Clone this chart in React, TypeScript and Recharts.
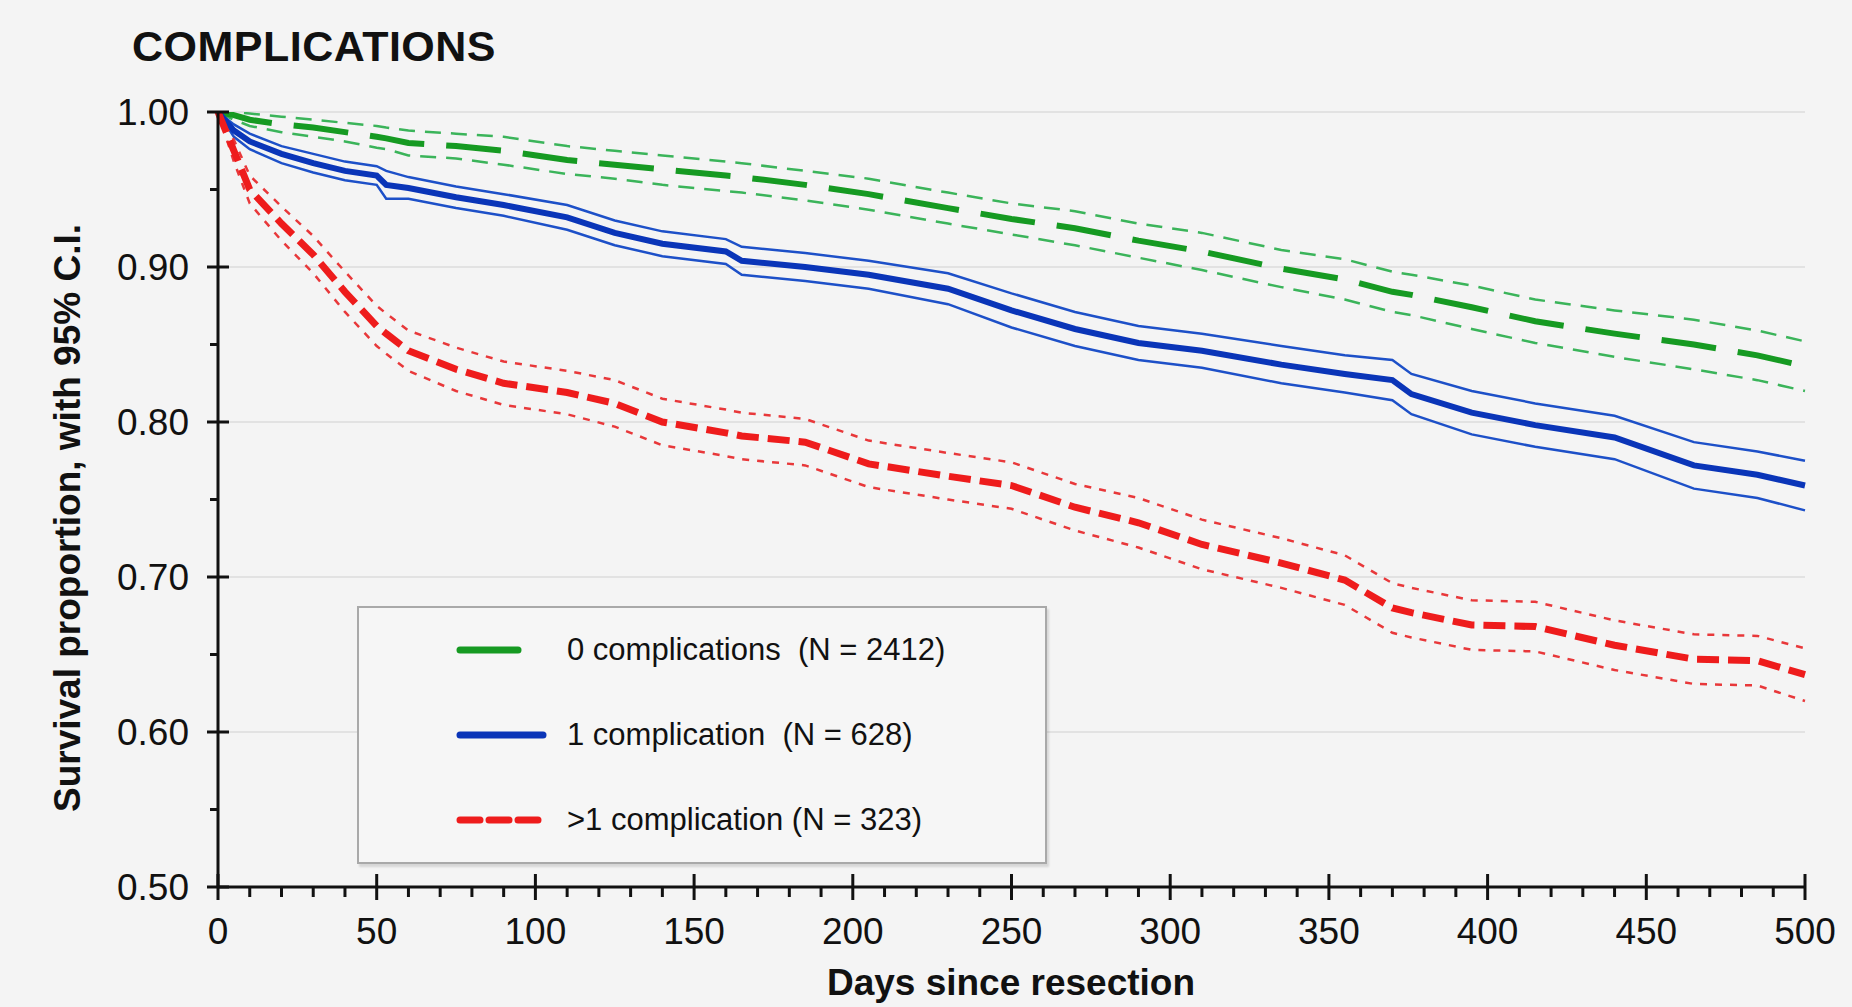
// Kaplan-Meier survival by number of complications, with 95% CI bands
import { LineChart, Line, XAxis, YAxis, ReferenceLine } from "recharts";

const days = [0, 5, 10, 20, 30, 40, 50, 53, 60, 75, 90, 110, 125, 140, 160, 165, 185, 205, 230, 250, 270, 290, 310, 335, 355, 370, 376, 395, 415, 440, 465, 485, 500];

// 0 complications (N = 2412)
const green = [1.0, 0.998, 0.995, 0.992, 0.99, 0.987, 0.984, 0.983, 0.98, 0.978, 0.975, 0.969, 0.966, 0.963, 0.959, 0.958, 0.953, 0.947, 0.938, 0.931, 0.925, 0.917, 0.91, 0.899, 0.892, 0.884, 0.882, 0.874, 0.865, 0.857, 0.85, 0.843, 0.836];
const greenUp = [1.0, 1.0, 0.999, 0.997, 0.995, 0.993, 0.991, 0.99, 0.988, 0.986, 0.984, 0.978, 0.975, 0.972, 0.968, 0.967, 0.962, 0.957, 0.948, 0.941, 0.936, 0.928, 0.922, 0.911, 0.905, 0.897, 0.895, 0.888, 0.879, 0.872, 0.866, 0.859, 0.852];
const greenLo = [1.0, 0.995, 0.991, 0.987, 0.984, 0.981, 0.977, 0.976, 0.972, 0.97, 0.966, 0.96, 0.957, 0.953, 0.949, 0.948, 0.943, 0.937, 0.928, 0.921, 0.914, 0.906, 0.898, 0.887, 0.879, 0.871, 0.869, 0.86, 0.851, 0.842, 0.834, 0.827, 0.82];

// 1 complication (N = 628)
const blue = [1.0, 0.988, 0.981, 0.973, 0.967, 0.962, 0.959, 0.953, 0.951, 0.945, 0.94, 0.932, 0.922, 0.915, 0.91, 0.904, 0.9, 0.895, 0.886, 0.872, 0.86, 0.851, 0.846, 0.837, 0.831, 0.827, 0.818, 0.806, 0.798, 0.79, 0.772, 0.766, 0.759];
const blueUp = [1.0, 0.992, 0.986, 0.978, 0.973, 0.968, 0.965, 0.962, 0.958, 0.952, 0.947, 0.94, 0.93, 0.923, 0.918, 0.913, 0.909, 0.904, 0.896, 0.883, 0.871, 0.862, 0.857, 0.849, 0.843, 0.84, 0.831, 0.82, 0.812, 0.804, 0.787, 0.781, 0.775];
const blueLo = [1.0, 0.984, 0.976, 0.967, 0.961, 0.956, 0.953, 0.944, 0.944, 0.938, 0.933, 0.924, 0.914, 0.907, 0.902, 0.895, 0.891, 0.886, 0.876, 0.861, 0.849, 0.84, 0.835, 0.825, 0.819, 0.814, 0.805, 0.792, 0.784, 0.776, 0.757, 0.751, 0.743];

// >1 complication (N = 323)
const red = [1.0, 0.975, 0.95, 0.928, 0.908, 0.884, 0.862, 0.857, 0.846, 0.834, 0.825, 0.819, 0.812, 0.8, 0.793, 0.791, 0.787, 0.773, 0.765, 0.759, 0.745, 0.735, 0.721, 0.709, 0.698, 0.68, 0.677, 0.669, 0.668, 0.656, 0.647, 0.646, 0.637];
const redUp = [1.0, 0.982, 0.959, 0.939, 0.92, 0.897, 0.875, 0.87, 0.859, 0.848, 0.839, 0.833, 0.827, 0.815, 0.808, 0.806, 0.802, 0.788, 0.78, 0.774, 0.76, 0.751, 0.737, 0.725, 0.714, 0.696, 0.693, 0.685, 0.684, 0.672, 0.663, 0.662, 0.654];
const redLo = [1.0, 0.968, 0.941, 0.917, 0.896, 0.871, 0.849, 0.844, 0.833, 0.82, 0.811, 0.805, 0.797, 0.785, 0.778, 0.776, 0.772, 0.758, 0.75, 0.744, 0.73, 0.719, 0.705, 0.693, 0.682, 0.664, 0.661, 0.653, 0.652, 0.64, 0.631, 0.63, 0.62];

const yTicks = [0.5, 0.55, 0.6, 0.65, 0.7, 0.75, 0.8, 0.85, 0.9, 0.95, 1.0];
const gridLines = [0.6, 0.7, 0.8, 0.9, 1.0];
const xTicks = Array.from({ length: 51 }, (_, i) => i * 10);

const legendItems = [
  { label: "0 complications  (N = 2412)", color: "#169a22", dash: "", len: 58 },
  { label: "1 complication  (N = 628)", color: "#0a35b8", dash: "", len: 83 },
  { label: ">1 complication (N = 323)", color: "#ee1c1c", dash: "20 9", len: 83 },
];

const rows = days.map((d, i) => ({
  day: d,
  g: green[i], gUp: greenUp[i], gLo: greenLo[i],
  b: blue[i], bUp: blueUp[i], bLo: blueLo[i],
  r: red[i], rUp: redUp[i], rLo: redLo[i],
}));

const FONT = "'Liberation Sans', Arial, Helvetica, sans-serif";
const BG = "#f4f4f4";

const YTick = (props: any) => {
  const { x, y, payload } = props;
  const v = payload.value;
  const major = Math.abs(v * 10 - Math.round(v * 10)) < 1e-6;
  return (
    <g>
      <line x1={major ? x - 11 : x - 8} x2={major ? x + 11 : x} y1={y} y2={y} stroke="#111" strokeWidth={3} />
      {major && (
        <text x={x - 29} y={y} dy={13} textAnchor="end" fontSize={37} fontFamily={FONT} fill="#111">
          {v.toFixed(2)}
        </text>
      )}
    </g>
  );
};

const XTick = (props: any) => {
  const { x, y, payload } = props;
  const v = payload.value;
  const major = v % 50 === 0;
  return (
    <g>
      <line x1={x} x2={x} y1={major ? y - 13 : y} y2={major ? y + 13 : y + 10} stroke="#111" strokeWidth={3} />
      {major && (
        <text x={x} y={y + 57} textAnchor="middle" fontSize={37} fontFamily={FONT} fill="#111">
          {v}
        </text>
      )}
    </g>
  );
};

export default function App() {
  return (
    <div style={{ position: "fixed", left: 0, top: 0, width: 1852, height: 1007, background: BG, fontFamily: FONT, color: "#111" }}>
      <LineChart width={1852} height={1007} data={rows} margin={{ top: 112, right: 47, bottom: 20, left: 118 }}>
        {gridLines.map((v) => (
          <ReferenceLine key={v} y={v} stroke="#e2e2e2" strokeWidth={2} />
        ))}
        <XAxis
          dataKey="day"
          type="number"
          domain={[0, 500]}
          ticks={xTicks}
          interval={0}
          height={100}
          tickSize={0}
          tickMargin={0}
          tickLine={false}
          axisLine={{ stroke: "#111", strokeWidth: 3 }}
          tick={<XTick />}
        />
        <YAxis
          type="number"
          domain={[0.5, 1.0]}
          ticks={yTicks}
          interval={0}
          width={100}
          tickSize={0}
          tickMargin={0}
          tickLine={false}
          axisLine={{ stroke: "#111", strokeWidth: 3 }}
          tick={<YTick />}
          allowDataOverflow
        />
        <Line dataKey="gUp" stroke="#3bb45a" strokeWidth={2.5} strokeDasharray="16 10" dot={false} isAnimationActive={false} />
        <Line dataKey="gLo" stroke="#3bb45a" strokeWidth={2.5} strokeDasharray="16 10" dot={false} isAnimationActive={false} />
        <Line dataKey="bUp" stroke="#1d50c8" strokeWidth={2.5} dot={false} isAnimationActive={false} />
        <Line dataKey="bLo" stroke="#1d50c8" strokeWidth={2.5} dot={false} isAnimationActive={false} />
        <Line dataKey="rUp" stroke="#e8383a" strokeWidth={2.5} strokeDasharray="7 8" dot={false} isAnimationActive={false} />
        <Line dataKey="rLo" stroke="#e8383a" strokeWidth={2.5} strokeDasharray="7 8" dot={false} isAnimationActive={false} />
        <Line dataKey="g" stroke="#169a22" strokeWidth={6} strokeDasharray="55 22" dot={false} isAnimationActive={false} />
        <Line dataKey="b" stroke="#0a35b8" strokeWidth={6} dot={false} isAnimationActive={false} />
        <Line dataKey="r" stroke="#ee1c1c" strokeWidth={7} strokeDasharray="22 9" dot={false} isAnimationActive={false} />
      </LineChart>

      <div style={{ position: "absolute", left: 132, top: 22, fontSize: 43, fontWeight: "bold", whiteSpace: "nowrap", letterSpacing: 0.5 }}>
        COMPLICATIONS
      </div>

      <div
        style={{
          position: "absolute",
          left: 68,
          top: 518,
          transform: "translate(-50%, -50%) rotate(-90deg)",
          fontSize: 37,
          fontWeight: "bold",
          whiteSpace: "nowrap",
        }}
      >
        Survival proportion, with 95% C.I.
      </div>

      <div
        style={{
          position: "absolute",
          left: 1011,
          top: 983,
          transform: "translate(-50%, -50%)",
          fontSize: 37,
          fontWeight: "bold",
          whiteSpace: "nowrap",
        }}
      >
        Days since resection
      </div>

      <div
        style={{
          position: "absolute",
          left: 357,
          top: 606,
          width: 686,
          height: 254,
          border: "2px solid #a9a9a9",
          boxShadow: "2px 3px 2px rgba(0,0,0,0.12)",
          background: "#f6f6f6",
        }}
      >
        {legendItems.map((it, i) => (
          <div key={it.label} style={{ position: "absolute", left: 0, top: 42 + i * 85 - 20, height: 40, width: "100%" }}>
            <svg width={200} height={40} style={{ position: "absolute", left: 0, top: 0 }}>
              <line x1={101} x2={101 + it.len} y1={20} y2={20} stroke={it.color} strokeWidth={7} strokeDasharray={it.dash || undefined} strokeLinecap="round" />
            </svg>
            <div style={{ position: "absolute", left: 208, top: 0, lineHeight: "40px", fontSize: 31, whiteSpace: "pre" }}>{it.label}</div>
          </div>
        ))}
      </div>
    </div>
  );
}
